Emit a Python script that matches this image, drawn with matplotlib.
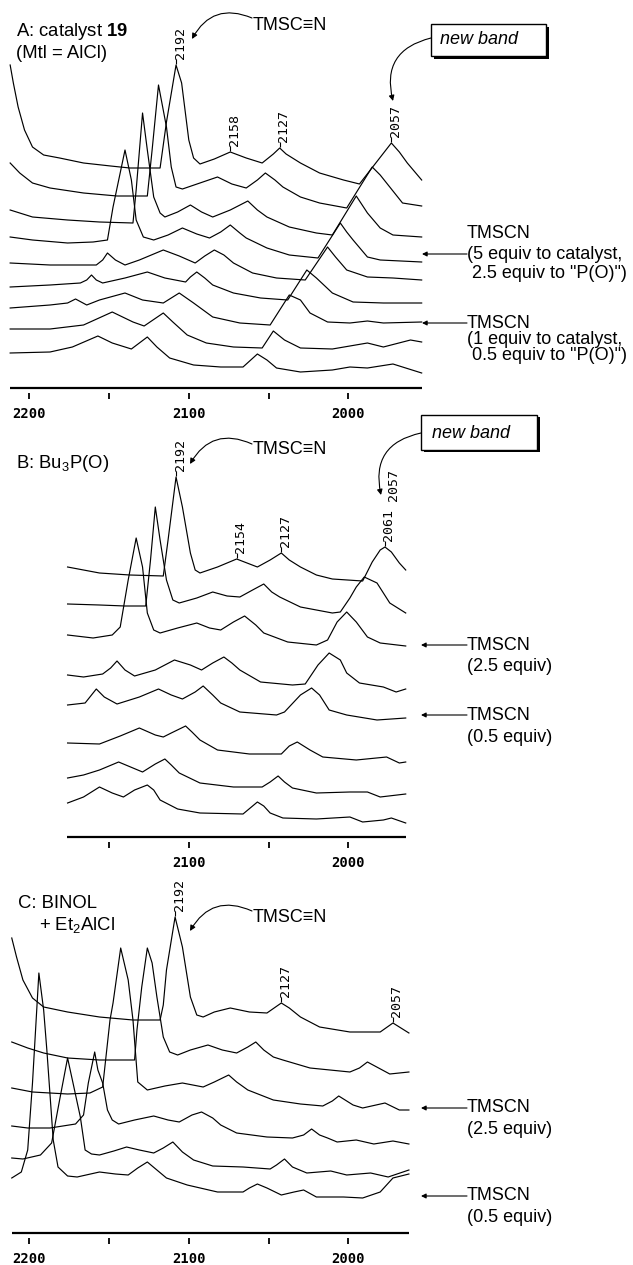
import matplotlib
matplotlib.use("Agg")
import matplotlib.pyplot as plt
from matplotlib.patches import FancyArrowPatch, Rectangle

# ---------------- data: IR traces (wavenumber cm-1, stacked absorbance a.u.) ----------------
A1 = [(2212,3.23),(2210,3.05),(2207,2.81),(2203,2.58),(2198,2.41),(2191,2.33),(2181,2.30),(2166,2.25),
      (2149,2.22),(2137,2.20),(2118,2.20),(2114,2.66),(2108,3.23),(2104.5,3.05),(2100,2.48),(2097,2.30),
      (2093,2.24),(2084,2.29),(2074,2.36),(2064,2.30),(2054,2.25),(2047,2.34),(2043,2.40),(2039,2.34),
      (2030,2.25),(2018,2.15),(2003,2.08),(1993,2.04),(1973,2.45),(1968,2.36),(1963,2.25),(1954,2.08)]
A2 = [(2212,2.25),(2206,2.15),(2198,2.05),(2187,2.00),(2166,1.95),(2145,1.92),(2126,1.92),(2123,2.38),
      (2119,3.03),(2114,2.61),(2111,2.21),(2108,2.01),(2104,1.99),(2093,2.05),(2082,2.11),(2073,2.04),
      (2064,2.00),(2057,2.08),(2052,2.15),(2046,2.08),(2041,2.01),(2030,1.91),(2018,1.85),(2001,1.80),
      (1985,2.21),(1980,2.13),(1974,2.01),(1966,1.85),(1954,1.82)]
A3 = [(2212,1.78),(2198,1.71),(2176,1.68),(2156,1.66),(2135,1.65),(2133,1.98),(2129,2.75),(2126,2.38),
      (2122,1.91),(2118,1.75),(2115,1.71),(2107,1.76),(2099,1.83),(2092,1.76),(2085,1.71),(2074,1.78),
      (2063,1.87),(2057,1.78),(2051,1.71),(2037,1.61),(2020,1.55),(2010,1.53),(1995,1.92),(1988,1.75),
      (1980,1.60),(1972,1.53),(1954,1.51)]
A4 = [(2212,1.51),(2198,1.48),(2176,1.45),(2160,1.46),(2151,1.48),(2147.5,1.81),(2140,2.38),(2136,2.08),
      (2133,1.68),(2128.5,1.51),(2122,1.48),(2113,1.53),(2104,1.60),(2095,1.54),(2087,1.50),(2080,1.56),
      (2074,1.63),(2068,1.55),(2064,1.50),(2051,1.40),(2037,1.33),(2019,1.30),(2005,1.65),(2001,1.56),
      (1997,1.48),(1988,1.31),(1980,1.28),(1954,1.26)]
A5 = [(2212,1.25),(2187,1.23),(2158,1.23),(2154,1.28),(2151,1.35),(2146,1.28),(2140,1.23),(2131,1.28),
      (2116,1.38),(2106,1.32),(2096,1.25),(2090,1.32),(2084,1.38),(2078,1.33),(2072,1.25),(2060,1.15),
      (2045,1.10),(2027,1.08),(2013,1.41),(2008,1.31),(2001,1.18),(1988,1.11),(1972,1.10),(1954,1.08)]
A6 = [(2212,1.01),(2187,1.03),(2168,1.05),(2164,1.08),(2161,1.13),(2158,1.08),(2154,1.05),(2140,1.10),
      (2126,1.16),(2115,1.10),(2102,1.06),(2099,1.11),(2095,1.16),(2090,1.10),(2085,1.03),(2072,0.95),
      (2055,0.90),(2038,0.88),(2026,1.18),(2020,1.10),(2010,0.95),(1997,0.86),(1978,0.85),(1954,0.85)]
A7 = [(2212,0.80),(2187,0.83),(2176,0.85),(2171,0.89),(2164,0.83),(2156,0.88),(2140,0.95),(2129,0.88),
      (2116,0.85),(2106,0.95),(2097,0.85),(2085,0.71),(2068,0.65),(2049,0.63),(2037,0.93),(2030,0.88),
      (2024,0.75),(2013,0.66),(1999,0.65),(1988,0.67),(1978,0.65),(1954,0.66)]
A8 = [(2212,0.59),(2187,0.59),(2166,0.63),(2148,0.76),(2135,0.66),(2128,0.62),(2116,0.75),(2110,0.66),
      (2101,0.53),(2089,0.45),(2072,0.41),(2054,0.40),(2047,0.57),(2040,0.48),(2030,0.40),(2010,0.39),
      (1988,0.45),(1978,0.41),(1961,0.48),(1954,0.46)]
A9 = [(2212,0.35),(2187,0.36),(2173,0.41),(2157,0.52),(2148,0.45),(2136,0.39),(2126,0.51),(2120,0.41),
      (2112,0.30),(2097,0.23),(2080,0.21),(2066,0.21),(2057,0.34),(2051,0.28),(2045,0.20),(2030,0.16),
      (2010,0.18),(1999,0.21),(1988,0.20),(1972,0.24),(1954,0.15)]

B1 = [(2176,2.70),(2166,2.67),(2156,2.64),(2137,2.62),(2116,2.61),(2113,2.97),(2108,3.60),(2104,3.30),
      (2099,2.84),(2096,2.67),(2093,2.64),(2082,2.70),(2070,2.78),(2057,2.70),(2049,2.77),(2042,2.84),
      (2037,2.77),(2030,2.70),(2020,2.62),(2010,2.58),(1991,2.56),(1985,2.75),(1980,2.87),(1977,2.90),
      (1973,2.85),(1968,2.74),(1964,2.67)]
B2 = [(2176,2.33),(2156,2.32),(2140,2.31),(2127,2.31),(2124,2.77),(2121,3.30),(2118,2.97),(2114,2.57),
      (2110,2.37),(2106,2.34),(2095,2.39),(2085,2.45),(2076,2.41),(2068,2.40),(2060,2.47),(2053,2.53),
      (2048,2.45),(2043,2.40),(2030,2.30),(2010,2.24),(2005,2.25),(1999,2.39),(1995,2.50),(1990,2.60),
      (1982,2.54),(1974,2.34),(1964,2.24)]
B3 = [(2176,2.02),(2160,1.99),(2148,2.02),(2143,2.10),(2138,2.57),(2133,2.99),(2129,2.70),(2126,2.24),
      (2122,2.07),(2118,2.04),(2107,2.09),(2095,2.14),(2087,2.09),(2080,2.07),(2072,2.15),(2065,2.21),
      (2058,2.12),(2053,2.04),(2038,1.95),(2020,1.92),(2013,1.97),(2007,2.15),(2001,2.25),(1995,2.15),
      (1988,2.00),(1980,1.94),(1964,1.91)]
B4 = [(2176,1.62),(2166,1.60),(2154,1.63),(2149,1.69),(2145,1.76),(2140,1.67),(2134,1.61),(2121,1.67),
      (2109,1.77),(2099,1.72),(2092,1.67),(2085,1.74),(2078,1.80),(2073,1.74),(2068,1.67),(2055,1.55),
      (2035,1.52),(2027,1.53),(2019,1.72),(2012,1.84),(2005,1.77),(2001,1.64),(1993,1.54),(1978,1.50),
      (1970,1.45),(1964,1.48)]
B5 = [(2176,1.32),(2165,1.34),(2158,1.48),(2153,1.40),(2145,1.33),(2131,1.40),(2119,1.48),(2111,1.42),
      (2104,1.38),(2096,1.45),(2091,1.51),(2085,1.42),(2080,1.34),(2068,1.25),(2045,1.22),(2040,1.25),
      (2030,1.42),(2023,1.49),(2018,1.42),(2012,1.27),(2001,1.22),(1982,1.17),(1964,1.19)]
B6 = [(2176,0.94),(2156,0.93),(2143,1.01),(2131,1.09),(2121,1.02),(2116,1.00),(2111,1.04),(2102,1.11),
      (2098,1.05),(2093,0.97),(2082,0.87),(2062,0.83),(2042,0.83),(2037,0.91),(2032,0.95),(2028,0.91),
      (2024,0.87),(2016,0.80),(1995,0.77),(1976,0.80),(1968,0.74),(1964,0.75)]
B7 = [(2176,0.59),(2166,0.62),(2156,0.67),(2144,0.75),(2135,0.69),(2129,0.65),(2121,0.73),(2115,0.78),
      (2111,0.72),(2106,0.64),(2093,0.54),(2072,0.50),(2054,0.50),(2049,0.55),(2044,0.61),(2040,0.55),
      (2035,0.49),(2020,0.44),(1999,0.45),(1988,0.45),(1980,0.40),(1964,0.43)]
B8 = [(2176,0.34),(2166,0.40),(2156,0.50),(2148,0.44),(2141,0.40),(2134,0.47),(2126,0.52),(2122,0.47),
      (2118,0.37),(2107,0.28),(2093,0.24),(2066,0.23),(2060,0.31),(2057,0.35),(2053,0.31),(2049,0.24),
      (2041,0.19),(2020,0.18),(1999,0.20),(1991,0.15),(1978,0.17),(1973,0.19),(1964,0.14)]

C1 = [(2211,2.95),(2208,2.76),(2204,2.53),(2198,2.35),(2191,2.26),(2176,2.21),(2156,2.16),(2135,2.13),
      (2118,2.13),(2116,2.28),(2114,2.63),(2108.6,3.16),(2104,2.86),(2099,2.36),(2095,2.18),(2091,2.16),
      (2084,2.21),(2074,2.25),(2062,2.21),(2051,2.20),(2042,2.30),(2037,2.25),(2030,2.16),(2018,2.06),
      (1999,2.01),(1980,2.01),(1972,2.10),(1962,2.00)]
C2 = [(2211,1.91),(2201,1.85),(2191,1.80),(2176,1.75),(2156,1.73),(2134,1.73),(2132.5,2.03),(2129.5,2.46),
      (2126,2.85),(2123,2.70),(2120,2.36),(2116,1.96),(2112,1.81),(2107,1.78),(2099,1.83),(2088,1.88),
      (2079,1.83),(2070,1.80),(2063,1.86),(2058,1.91),(2053,1.83),(2047,1.76),(2041,1.73),(2024,1.65),
      (1999,1.61),(1993,1.65),(1988,1.71),(1981,1.65),(1974,1.59),(1962,1.61)]
C3 = [(2211,1.45),(2198,1.41),(2176,1.39),(2162,1.40),(2154,1.46),(2149.4,2.13),(2147.5,2.30),(2142.7,2.85),
      (2138,2.53),(2135,2.13),(2132,1.51),(2126,1.43),(2115,1.47),(2104,1.50),(2091,1.46),(2084,1.51),
      (2075,1.58),(2070,1.51),(2063,1.43),(2047,1.33),(2030,1.29),(2016,1.27),(2010,1.32),(2006,1.37),
      (2001,1.32),(1997,1.28),(1991,1.25),(1977,1.30),(1968,1.23),(1962,1.23)]
C4 = [(2211,1.07),(2201,1.05),(2187,1.05),(2171,1.09),(2166,1.18),(2163,1.50),(2159,1.81),(2157,1.63),
      (2154,1.50),(2151,1.23),(2148,1.13),(2144,1.09),(2134,1.13),(2122,1.17),(2113,1.13),(2106,1.11),
      (2098,1.18),(2092,1.21),(2085,1.15),(2080,1.08),(2070,1.00),(2051,0.96),(2035,0.95),(2028,0.98),
      (2023,1.04),(2018,0.98),(2013,0.95),(2007,0.91),(1995,0.93),(1984,0.89),(1972,0.92),(1962,0.89)]
C5 = [(2211,0.75),(2204,0.74),(2193,0.78),(2186,0.90),(2181,1.33),(2176,1.75),(2173,1.53),(2168,1.16),
      (2165,0.83),(2161,0.79),(2156,0.78),(2147,0.82),(2139,0.86),(2131,0.83),(2122,0.80),(2116,0.85),
      (2110,0.91),(2104,0.81),(2097,0.73),(2085,0.67),(2066,0.66),(2049,0.64),(2045,0.68),(2040,0.74),
      (2035,0.66),(2026,0.60),(2011,0.62),(2001,0.58),(1986,0.60),(1975,0.56),(1962,0.63)]
C6 = [(2211,0.55),(2205,0.61),(2201,0.83),(2198,1.50),(2194,2.60),(2191,2.23),(2189,1.83),(2185,0.93),
      (2182,0.66),(2176,0.57),(2170,0.56),(2156,0.61),(2146,0.59),(2138,0.58),(2132,0.65),(2126,0.71),
      (2120,0.63),(2114,0.55),(2101,0.48),(2082,0.41),(2066,0.41),(2062,0.45),(2057,0.49),(2051,0.45),
      (2042,0.38),(2034,0.41),(2028,0.43),(2020,0.36),(2003,0.36),(1991,0.35),(1980,0.41),(1972,0.55),
      (1962,0.59)]

# peak labels: (text, wavenumber, absorbance)
peaks_A = [("2192", 2108, 3.23), ("2158", 2074, 2.36), ("2127", 2043, 2.40), ("2057", 1973, 2.45)]
peaks_B = [("2192", 2108, 3.60), ("2154", 2070, 2.78), ("2127", 2042, 2.84), ("2061", 1977, 2.90)]
peaks_C = [("2192", 2108.6, 3.16), ("2127", 2042, 2.30), ("2057", 1972, 2.10)]

ticks_AC = [2200, 2150, 2100, 2050, 2000]
ticklabels_AC = ["2200", "", "2100", "", "2000"]
ticks_B = [2150, 2100, 2050, 2000]
ticklabels_B = ["", "2100", "", "2000"]

# ---------------- styling / layout ----------------
W, H = 633, 1265
plt.rcParams['font.family'] = ['Liberation Sans', 'DejaVu Sans']
plt.rcParams['mathtext.fontset'] = 'custom'
plt.rcParams['mathtext.rm'] = 'Liberation Sans'
plt.rcParams['mathtext.it'] = 'Liberation Sans:italic'
plt.rcParams['mathtext.bf'] = 'Liberation Sans:bold'

FS = 13.0
MONO = 'DejaVu Sans Mono'

fig = plt.figure(figsize=(W / 100, H / 100), dpi=100)
fig.patch.set_facecolor('white')


def P(px, py):
    return (px / W, 1 - py / H)


XLIM = (2218.37, 1821.5)

panels = [
    dict(traces=[A1, A2, A3, A4, A5, A6, A7, A8, A9], peaks=peaks_A, top=0, bot=420, base=388,
         axis=(2212, 1954), ticks=ticks_AC, labels=ticklabels_AC),
    dict(traces=[B1, B2, B3, B4, B5, B6, B7, B8], peaks=peaks_B, top=420, bot=880, base=837,
         axis=(2176.4, 1963.8), ticks=ticks_B, labels=ticklabels_B),
    dict(traces=[C1, C2, C3, C4, C5, C6], peaks=peaks_C, top=880, bot=1265, base=1233,
         axis=(2210.8, 1962), ticks=ticks_AC, labels=ticklabels_AC),
]

for pn in panels:
    ax = fig.add_axes([0, 1 - pn['bot'] / H, 1, (pn['bot'] - pn['top']) / H])
    ax.set_facecolor('none')
    ax.set_xlim(*XLIM)
    ax.set_ylim((pn['base'] - pn['bot']) / 100, (pn['base'] - pn['top']) / 100)
    for tr in pn['traces']:
        xs = [p[0] for p in tr]
        ys = [p[1] for p in tr]
        ax.plot(xs, ys, color='black', lw=0.85, solid_joinstyle='round')
    # axis line
    ax.hlines(0, pn['axis'][0], pn['axis'][1], color='black', lw=1.6)
    for s in ['top', 'left', 'right']:
        ax.spines[s].set_visible(False)
    ax.spines['bottom'].set_position(('data', -0.05))
    ax.spines['bottom'].set_visible(False)
    ax.set_yticks([])
    ax.set_xticks(pn['ticks'])
    ax.set_xticklabels(pn['labels'])
    ax.tick_params(axis='x', direction='out', length=4.4, width=1.3, pad=6, labelsize=10)
    for lbl in ax.get_xticklabels():
        lbl.set_fontfamily(MONO)
        lbl.set_fontweight('bold')
    # peak labels
    for txt, wn, ab in pn['peaks']:
        ax.vlines(wn, ab + 0.01, ab + 0.06, color='black', lw=0.8)
        ax.text(wn - 2.5, ab + 0.06, txt, rotation=90, ha='center', va='bottom',
                fontsize=9.5, family=MONO)

# ---------------- annotations ----------------
def ftext(px, py, s, **kw):
    kw.setdefault('fontsize', FS)
    kw.setdefault('va', 'center')
    kw.setdefault('ha', 'left')
    fig.text(*P(px, py), s, **kw)


def farrow(p0, p1, rad=0.0, ms=8, lw=0.8):
    a = FancyArrowPatch(P(*p0), P(*p1), transform=fig.transFigure,
                        connectionstyle=f"arc3,rad={rad}", arrowstyle='-|>',
                        mutation_scale=ms, lw=lw, color='black', shrinkA=0, shrinkB=0)
    fig.add_artist(a)


def newband_box(x0, y0, x1, y1, tx, ty):
    w, h = (x1 - x0) / W, (y1 - y0) / H
    fig.add_artist(Rectangle(P(x0 + 2.5, y1 + 2.5), w, h, transform=fig.transFigure,
                             facecolor='black', edgecolor='black', lw=0))
    fig.add_artist(Rectangle(P(x0, y1), w, h, transform=fig.transFigure,
                             facecolor='white', edgecolor='black', lw=1.0))
    ftext(tx, ty, 'new band', style='italic')


# Panel A
ftext(16, 32, r'A: catalyst $\mathbf{19}$', fontsize=13.3)
ftext(16, 53, '(Mtl = AlCl)', fontsize=13.3)
ftext(253, 25, 'TMSC≡N')
farrow((252, 18), (192, 39), rad=0.45)
newband_box(431, 24, 546, 56, 440, 40)
farrow((431, 38), (393, 101), rad=0.5)
farrow((467, 254), (422, 254), ms=7)
ftext(467, 233, 'TMSCN')
ftext(467, 255, '(5 equiv to catalyst,')
ftext(467, 273, ' 2.5 equiv to "P(O)")')
farrow((467, 323), (422, 323), ms=7)
ftext(467, 323, 'TMSCN')
ftext(467, 339, '(1 equiv to catalyst,')
ftext(467, 356, ' 0.5 equiv to "P(O)")')

# Panel B
ftext(16, 463, r'B: Bu$_3$P(O)', fontsize=13.3)
ftext(253, 450, 'TMSC≡N')
farrow((252, 444), (190, 464), rad=0.45)
newband_box(421, 415, 537, 450, 432, 434)
farrow((421, 433), (381, 495), rad=0.5)
fig.text(*P(394, 501), '2057', rotation=90, ha='center', va='bottom', fontsize=9.5, family=MONO)
farrow((467, 645), (421, 645), ms=7)
ftext(467, 645, 'TMSCN')
ftext(467, 667, '(2.5 equiv)')
farrow((467, 715), (421, 715), ms=7)
ftext(467, 715, 'TMSCN')
ftext(467, 737, '(0.5 equiv)')

# Panel C
ftext(18, 903, 'C: BINOL', fontsize=13.3)
ftext(39, 925, r'+ Et$_2$AlCl', fontsize=13.3)
ftext(253, 918, 'TMSC≡N')
farrow((252, 911), (190, 931), rad=0.45)
farrow((467, 1108), (421, 1108), ms=7)
ftext(467, 1108, 'TMSCN')
ftext(467, 1130, '(2.5 equiv)')
farrow((467, 1196), (421, 1196), ms=7)
ftext(467, 1196, 'TMSCN')
ftext(467, 1218, '(0.5 equiv)')

fig.savefig('out.png', dpi=100, facecolor='white')
